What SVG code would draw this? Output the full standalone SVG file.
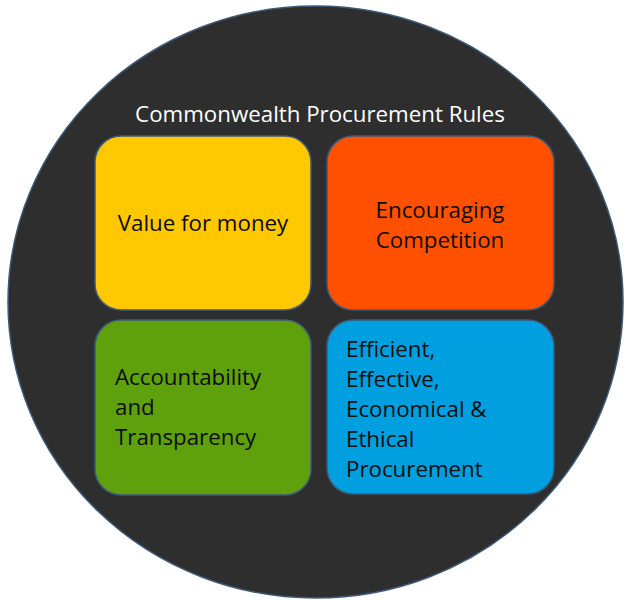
<svg xmlns="http://www.w3.org/2000/svg" width="628" height="600" viewBox="0 0 628 600">
<style>
.box{stroke:#3d5a78;stroke-width:1.5}
.t{font-family:"Open Sans","Liberation Sans",sans-serif;font-size:22.3px;fill:#0d0d0d}
.title{font-family:"Open Sans","Liberation Sans",sans-serif;font-size:22.3px;fill:#fff}
</style>
<rect width="628" height="600" fill="#fff"/>
<g id="circle">
<ellipse cx="315.5" cy="302" rx="307.5" ry="296" fill="#2e2e2e" stroke="#3d5a78" stroke-width="1.5"/>
<text class="title" x="320" y="122" text-anchor="middle">Commonwealth Procurement Rules</text>
</g>
<g id="value">
<rect class="box" x="95" y="136" width="216" height="174" rx="26" fill="#ffc800"/>
<text class="t" x="203" y="231" text-anchor="middle">Value for money</text>
</g>
<g id="competition">
<rect class="box" x="327" y="136" width="227" height="174" rx="26" fill="#ff5000"/>
<text class="t" x="440" y="218" text-anchor="middle">Encouraging</text>
<text class="t" x="440" y="248" text-anchor="middle">Competition</text>
</g>
<g id="accountability">
<rect class="box" x="95" y="320" width="216" height="175" rx="26" fill="#5fa10c"/>
<text class="t" x="115" y="385">Accountability</text>
<text class="t" x="115" y="415">and</text>
<text class="t" x="115" y="445">Transparency</text>
</g>
<g id="efficient">
<rect class="box" x="327" y="320" width="227" height="174" rx="26" fill="#009fdf"/>
<text class="t" x="346" y="357">Efficient,</text>
<text class="t" x="346" y="387">Effective,</text>
<text class="t" x="346" y="417">Economical &amp;</text>
<text class="t" x="346" y="447">Ethical</text>
<text class="t" x="346" y="477">Procurement</text>
</g>
</svg>
